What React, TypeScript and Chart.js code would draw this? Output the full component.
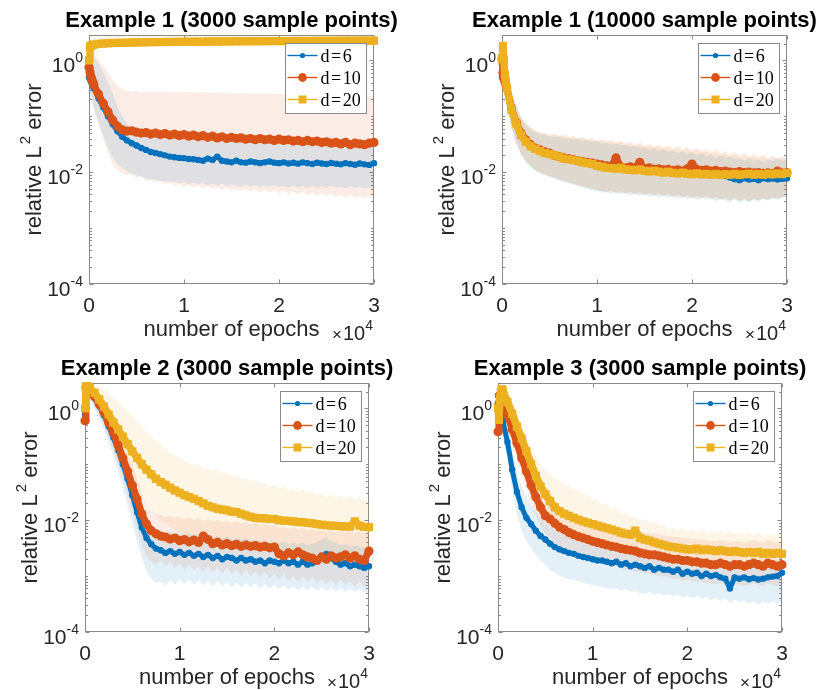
import React, { useEffect, useRef } from 'react';
import { Chart, registerables } from 'chart.js';

Chart.register(...registerables);

// ---------------- data ----------------
const EPOCHS = [
  0, 100, 200, 300, 400, 500, 1000, 1500, 2000, 2500, 3000, 3500, 4000,
  4500, 5000, 5500, 6000, 6500, 7000, 7500, 8000, 8500, 9000, 9500, 10000, 10500,
  11000, 11500, 12000, 12500, 13000, 13500, 14000, 14500, 15000, 15500, 16000, 16500, 17000,
  17500, 18000, 18500, 19000, 19500, 20000, 20500, 21000, 21500, 22000, 22500, 23000, 23500,
  24000, 24500, 25000, 25500, 26000, 26500, 27000, 27500, 28000, 28500, 29000, 29500, 30000,
];

const SERIES_LABELS = ['6', '10', '20'];
const X_TICKS = [0, 10000, 20000, 30000];
const X_TICK_LABELS = ['0', '1', '2', '3'];
const Y_TICKS = [1e-4, 1e-2, 1];
const Y_TICK_EXPONENTS = ['-4', '-2', '0'];
const Y_MIN = 1e-4;
const Y_MAX = 2.84;
const TITLES = [
  'Example 1 (3000 sample points)',
  'Example 1 (10000 sample points)',
  'Example 2 (3000 sample points)',
  'Example 3 (3000 sample points)',
];

// Panel 1: Example 1, 3000 points
const P1_D6 = [
  0.5, 0.46, 0.42, 0.38, 0.35, 0.32, 0.21, 0.145, 0.1, 0.072, 0.054, 0.043, 0.037,
  0.033, 0.03, 0.027, 0.025, 0.023, 0.022, 0.021, 0.02, 0.019, 0.0185, 0.018, 0.0178, 0.0172,
  0.017, 0.0165, 0.016, 0.0175, 0.0165, 0.019, 0.016, 0.0155, 0.015, 0.016, 0.015, 0.0148, 0.0155,
  0.015, 0.0145, 0.015, 0.0155, 0.0148, 0.0145, 0.015, 0.0143, 0.0147, 0.0142, 0.015, 0.0145, 0.014,
  0.0148, 0.0143, 0.014, 0.0146, 0.0142, 0.0138, 0.0145, 0.014, 0.0136, 0.0143, 0.0138, 0.0135, 0.0145,
];
const P1_D6_LO = [
  0.3, 0.26, 0.22, 0.19, 0.16, 0.14, 0.08, 0.045, 0.028, 0.019, 0.014, 0.012, 0.0105,
  0.0095, 0.0088, 0.0082, 0.0078, 0.0072, 0.0075, 0.0068, 0.0071, 0.0065, 0.0069, 0.0063, 0.0067, 0.0061,
  0.0065, 0.006, 0.0064, 0.0058, 0.0063, 0.0057, 0.0062, 0.0056, 0.0061, 0.0058, 0.0055, 0.006, 0.0056,
  0.0059, 0.0054, 0.0058, 0.0055, 0.0059, 0.0054, 0.0057, 0.0053, 0.0058, 0.0054, 0.0056, 0.0052, 0.0057,
  0.0053, 0.0056, 0.0052, 0.0057, 0.0053, 0.0055, 0.0051, 0.0056, 0.0052, 0.0055, 0.005, 0.0054, 0.0052,
];
const P1_D6_HI = [
  1.5, 1.4, 1.3, 1.2, 1.15, 1.1, 0.9, 0.6, 0.4, 0.25, 0.15, 0.1, 0.075,
  0.062, 0.054, 0.05, 0.046, 0.048, 0.044, 0.046, 0.042, 0.044, 0.04, 0.043, 0.039, 0.041,
  0.038, 0.04, 0.037, 0.039, 0.036, 0.038, 0.035, 0.037, 0.034, 0.036, 0.034, 0.035, 0.033,
  0.035, 0.032, 0.034, 0.033, 0.031, 0.034, 0.032, 0.03, 0.033, 0.031, 0.032, 0.03, 0.031,
  0.029, 0.032, 0.03, 0.031, 0.029, 0.03, 0.028, 0.031, 0.029, 0.03, 0.028, 0.029, 0.028,
];
const P1_D10 = [
  0.75, 0.62, 0.52, 0.46, 0.41, 0.37, 0.25, 0.17, 0.12, 0.085, 0.066, 0.057, 0.054,
  0.055, 0.052, 0.05, 0.051, 0.048, 0.05, 0.047, 0.049, 0.046, 0.048, 0.045, 0.047, 0.044,
  0.046, 0.043, 0.045, 0.042, 0.044, 0.041, 0.043, 0.04, 0.042, 0.04, 0.041, 0.039, 0.04,
  0.038, 0.04, 0.038, 0.039, 0.037, 0.039, 0.037, 0.038, 0.036, 0.037, 0.035, 0.037, 0.035,
  0.036, 0.034, 0.035, 0.033, 0.034, 0.032, 0.034, 0.031, 0.033, 0.032, 0.031, 0.033, 0.034,
];
const P1_D10_LO = [
  0.3, 0.25, 0.2, 0.18, 0.16, 0.14, 0.07, 0.04, 0.022, 0.014, 0.011, 0.0095, 0.0088,
  0.0092, 0.0078, 0.0085, 0.007, 0.0076, 0.0064, 0.0071, 0.006, 0.0066, 0.0057, 0.0062, 0.0055, 0.006,
  0.0053, 0.0058, 0.0051, 0.0056, 0.005, 0.0054, 0.0048, 0.0053, 0.0047, 0.0051, 0.0046, 0.005, 0.0045,
  0.0049, 0.0044, 0.0048, 0.0043, 0.0047, 0.0042, 0.0046, 0.0041, 0.0045, 0.004, 0.0044, 0.0039, 0.0043,
  0.0038, 0.0042, 0.0037, 0.0041, 0.0036, 0.004, 0.0035, 0.0039, 0.0035, 0.0038, 0.0034, 0.0037, 0.0036,
];
const P1_D10_HI = [
  1.8, 1.7, 1.6, 1.5, 1.4, 1.3, 1.05, 0.8, 0.6, 0.45, 0.35, 0.3, 0.28,
  0.275, 0.28, 0.27, 0.275, 0.272, 0.278, 0.27, 0.275, 0.268, 0.272, 0.27, 0.268, 0.265,
  0.27, 0.265, 0.268, 0.262, 0.266, 0.26, 0.264, 0.258, 0.262, 0.256, 0.26, 0.255, 0.258,
  0.252, 0.256, 0.25, 0.254, 0.248, 0.252, 0.246, 0.25, 0.244, 0.248, 0.242, 0.246, 0.24,
  0.244, 0.238, 0.242, 0.236, 0.24, 0.234, 0.238, 0.232, 0.236, 0.23, 0.234, 0.228, 0.23,
];
const P1_D20 = [
  1.0, 1.75, 1.82, 1.86, 1.89, 1.91, 1.97, 2.0, 2.02, 2.04, 2.05, 2.06, 2.07,
  2.08, 2.09, 2.1, 2.1, 2.11, 2.12, 2.12, 2.13, 2.13, 2.14, 2.14, 2.15, 2.15,
  2.16, 2.16, 2.16, 2.17, 2.17, 2.17, 2.18, 2.18, 2.18, 2.19, 2.19, 2.19, 2.19,
  2.2, 2.2, 2.2, 2.2, 2.21, 2.21, 2.21, 2.21, 2.22, 2.22, 2.22, 2.22, 2.22,
  2.23, 2.23, 2.23, 2.23, 2.24, 2.24, 2.24, 2.24, 2.24, 2.25, 2.25, 2.25, 2.25,
];
const P1_D20_LO = [
  0.85, 1.35, 1.45, 1.5, 1.55, 1.58, 1.65, 1.7, 1.73, 1.76, 1.78, 1.8, 1.81,
  1.82, 1.83, 1.84, 1.85, 1.86, 1.87, 1.87, 1.88, 1.88, 1.89, 1.89, 1.9, 1.9,
  1.91, 1.91, 1.91, 1.92, 1.92, 1.92, 1.93, 1.93, 1.93, 1.94, 1.94, 1.94, 1.94,
  1.95, 1.95, 1.95, 1.95, 1.96, 1.96, 1.96, 1.96, 1.97, 1.97, 1.97, 1.97, 1.97,
  1.98, 1.98, 1.98, 1.98, 1.99, 1.99, 1.99, 1.99, 1.99, 2.0, 2.0, 2.0, 2.0,
];
const P1_D20_HI = [
  1.2, 2.3, 2.4, 2.45, 2.5, 2.52, 2.58, 2.62, 2.64, 2.66, 2.68, 2.69, 2.7,
  2.71, 2.72, 2.72, 2.73, 2.73, 2.74, 2.74, 2.75, 2.75, 2.75, 2.76, 2.76, 2.76,
  2.77, 2.77, 2.77, 2.77, 2.77, 2.77, 2.77, 2.77, 2.77, 2.77, 2.77, 2.77, 2.77,
  2.78, 2.78, 2.78, 2.78, 2.78, 2.78, 2.78, 2.78, 2.78, 2.78, 2.78, 2.78, 2.78,
  2.8, 2.8, 2.8, 2.8, 2.8, 2.8, 2.8, 2.8, 2.8, 2.8, 2.8, 2.8, 2.8,
];

// Panel 2: Example 1, 10000 points
const P2_D6 = [
  0.5, 0.52, 0.45, 0.4, 0.35, 0.29, 0.13, 0.073, 0.047, 0.036, 0.03, 0.026, 0.024,
  0.022, 0.021, 0.02, 0.019, 0.018, 0.017, 0.0165, 0.016, 0.0155, 0.015, 0.014, 0.0135, 0.013,
  0.0128, 0.0125, 0.012, 0.0118, 0.0115, 0.0113, 0.011, 0.0112, 0.0108, 0.011, 0.0105, 0.0108, 0.0103,
  0.0105, 0.01, 0.0102, 0.0098, 0.01, 0.0095, 0.0098, 0.0093, 0.0095, 0.009, 0.0092, 0.0088, 0.0085,
  0.008, 0.0075, 0.0072, 0.0078, 0.0074, 0.0076, 0.0072, 0.0078, 0.0075, 0.0077, 0.0074, 0.0076, 0.0078,
];
const P2_D6_LO = [
  0.3, 0.3, 0.26, 0.22, 0.19, 0.15, 0.06, 0.032, 0.02, 0.015, 0.012, 0.0105, 0.0095,
  0.0088, 0.0082, 0.0076, 0.0072, 0.0066, 0.0063, 0.006, 0.0056, 0.0054, 0.005, 0.0048, 0.0046, 0.0043,
  0.0045, 0.0041, 0.0044, 0.004, 0.0043, 0.0038, 0.0042, 0.0037, 0.0041, 0.0036, 0.004, 0.0035, 0.0039,
  0.0034, 0.0038, 0.0033, 0.0037, 0.0032, 0.0036, 0.0031, 0.0035, 0.0032, 0.0034, 0.003, 0.0033, 0.0031,
  0.0029, 0.0032, 0.0028, 0.0031, 0.0029, 0.0032, 0.003, 0.0033, 0.0031, 0.0034, 0.0032, 0.0035, 0.0036,
];
const P2_D6_HI = [
  0.8, 0.9, 0.8, 0.7, 0.6, 0.5, 0.25, 0.14, 0.09, 0.07, 0.058, 0.052, 0.048,
  0.046, 0.044, 0.042, 0.043, 0.04, 0.041, 0.038, 0.04, 0.037, 0.038, 0.035, 0.036, 0.033,
  0.034, 0.031, 0.033, 0.03, 0.031, 0.028, 0.03, 0.027, 0.028, 0.025, 0.027, 0.024, 0.026,
  0.023, 0.025, 0.022, 0.024, 0.021, 0.023, 0.02, 0.022, 0.019, 0.021, 0.018, 0.02, 0.018,
  0.019, 0.017, 0.018, 0.016, 0.018, 0.016, 0.017, 0.015, 0.017, 0.016, 0.018, 0.016, 0.017,
];
const P2_D10 = [
  1.05, 0.6, 0.48, 0.42, 0.37, 0.32, 0.14, 0.078, 0.05, 0.038, 0.031, 0.027, 0.025,
  0.023, 0.022, 0.02, 0.019, 0.018, 0.0175, 0.0168, 0.016, 0.0155, 0.015, 0.0145, 0.014, 0.0135,
  0.013, 0.0128, 0.018, 0.0125, 0.012, 0.0125, 0.0118, 0.015, 0.0115, 0.012, 0.0112, 0.0115, 0.011,
  0.0112, 0.0108, 0.011, 0.0105, 0.0115, 0.014, 0.0112, 0.0108, 0.011, 0.0105, 0.0108, 0.0102, 0.0105,
  0.01, 0.0098, 0.0102, 0.0098, 0.01, 0.0097, 0.0098, 0.0095, 0.0097, 0.0094, 0.0105, 0.0096, 0.0098,
];
const P2_D10_LO = [
  0.6, 0.35, 0.28, 0.24, 0.2, 0.17, 0.065, 0.035, 0.022, 0.016, 0.013, 0.011, 0.01,
  0.0092, 0.0086, 0.008, 0.0075, 0.007, 0.0066, 0.0062, 0.0059, 0.0056, 0.0053, 0.005, 0.0048, 0.0046,
  0.0044, 0.0047, 0.0042, 0.0046, 0.0041, 0.0045, 0.004, 0.0044, 0.0039, 0.0043, 0.0038, 0.0042, 0.0037,
  0.0041, 0.0036, 0.004, 0.0035, 0.0039, 0.0034, 0.0038, 0.0034, 0.0037, 0.0033, 0.0036, 0.0032, 0.0035,
  0.0031, 0.0034, 0.0031, 0.0033, 0.003, 0.0033, 0.0031, 0.0034, 0.0032, 0.0035, 0.0033, 0.0036, 0.0037,
];
const P2_D10_HI = [
  1.6, 0.95, 0.85, 0.75, 0.65, 0.55, 0.28, 0.16, 0.1, 0.078, 0.064, 0.057, 0.052,
  0.05, 0.047, 0.049, 0.045, 0.047, 0.043, 0.045, 0.041, 0.043, 0.039, 0.041, 0.037, 0.039,
  0.036, 0.038, 0.034, 0.037, 0.033, 0.035, 0.031, 0.034, 0.03, 0.032, 0.029, 0.031, 0.028,
  0.03, 0.027, 0.029, 0.026, 0.028, 0.025, 0.027, 0.024, 0.026, 0.023, 0.025, 0.022, 0.024,
  0.021, 0.023, 0.02, 0.022, 0.019, 0.021, 0.019, 0.02, 0.018, 0.02, 0.018, 0.019, 0.018,
];
const P2_D20 = [
  1.1, 1.8, 1.0, 0.55, 0.42, 0.33, 0.13, 0.074, 0.046, 0.035, 0.029, 0.026, 0.024,
  0.022, 0.021, 0.02, 0.019, 0.0175, 0.017, 0.0165, 0.016, 0.015, 0.0145, 0.014, 0.013, 0.0125,
  0.012, 0.0118, 0.0115, 0.012, 0.0112, 0.011, 0.0108, 0.0112, 0.0106, 0.0103, 0.0106, 0.0102, 0.0098,
  0.0102, 0.0097, 0.0095, 0.0098, 0.0094, 0.0092, 0.0095, 0.0091, 0.0093, 0.009, 0.0093, 0.0089, 0.0092,
  0.009, 0.0093, 0.0089, 0.0092, 0.0094, 0.009, 0.0093, 0.009, 0.0094, 0.0091, 0.0095, 0.0092, 0.0097,
];
const P2_D20_LO = [
  0.8, 1.2, 0.6, 0.3, 0.22, 0.17, 0.06, 0.033, 0.021, 0.016, 0.013, 0.011, 0.0098,
  0.009, 0.0084, 0.0078, 0.0073, 0.0068, 0.0064, 0.0061, 0.0057, 0.0055, 0.0052, 0.0049, 0.0047, 0.0045,
  0.0043, 0.0046, 0.0041, 0.0045, 0.004, 0.0044, 0.0039, 0.0043, 0.0038, 0.0042, 0.0037, 0.0041, 0.0036,
  0.004, 0.0035, 0.0039, 0.0034, 0.0038, 0.0033, 0.0037, 0.0033, 0.0036, 0.0032, 0.0035, 0.0032, 0.0034,
  0.0031, 0.0034, 0.003, 0.0033, 0.003, 0.0033, 0.0031, 0.0034, 0.0032, 0.0035, 0.0033, 0.0036, 0.0037,
];
const P2_D20_HI = [
  1.5, 2.4, 1.6, 0.95, 0.75, 0.6, 0.28, 0.15, 0.095, 0.074, 0.062, 0.055, 0.05,
  0.048, 0.045, 0.047, 0.043, 0.045, 0.041, 0.043, 0.039, 0.041, 0.037, 0.039, 0.035, 0.037,
  0.034, 0.036, 0.032, 0.035, 0.031, 0.033, 0.029, 0.032, 0.028, 0.03, 0.027, 0.029, 0.026,
  0.028, 0.025, 0.027, 0.024, 0.026, 0.023, 0.025, 0.022, 0.024, 0.021, 0.023, 0.02, 0.022,
  0.019, 0.021, 0.018, 0.02, 0.018, 0.019, 0.017, 0.019, 0.017, 0.018, 0.016, 0.018, 0.017,
];

// Panel 3: Example 2, 3000 points
const P3_D6 = [
  0.78, 2.3, 2.35, 2.3, 2.2, 2.1, 1.55, 1.1, 0.75, 0.48, 0.3, 0.18, 0.1,
  0.055, 0.028, 0.014, 0.0075, 0.0048, 0.0037, 0.0031, 0.0029, 0.0026, 0.0028, 0.0025, 0.0027, 0.0024,
  0.0026, 0.0023, 0.0025, 0.0022, 0.0024, 0.0021, 0.0023, 0.002, 0.0022, 0.0021, 0.0019, 0.0021, 0.0019,
  0.002, 0.0018, 0.0019, 0.0017, 0.0019, 0.0018, 0.0017, 0.0019, 0.0017, 0.0018, 0.0016, 0.0018, 0.0016,
  0.0017, 0.0019, 0.0022, 0.0025, 0.0021, 0.0018, 0.0016, 0.0017, 0.0015, 0.0016, 0.0015, 0.0014, 0.0015,
];
const P3_D6_LO = [
  0.5, 1.6, 1.7, 1.65, 1.55, 1.45, 1.0, 0.65, 0.4, 0.24, 0.14, 0.075, 0.038,
  0.018, 0.0085, 0.0042, 0.0022, 0.0012, 0.0009, 0.00075, 0.0008, 0.00068, 0.00085, 0.0007, 0.0009, 0.00072,
  0.00088, 0.0007, 0.00085, 0.00068, 0.00082, 0.00066, 0.0008, 0.00065, 0.00078, 0.00064, 0.00076, 0.00062, 0.00075,
  0.00063, 0.00074, 0.0006, 0.00072, 0.00059, 0.0007, 0.00058, 0.00068, 0.00057, 0.00066, 0.00056, 0.00065, 0.00055,
  0.00064, 0.00055, 0.00063, 0.00054, 0.00062, 0.00053, 0.00061, 0.00052, 0.0006, 0.00052, 0.00058, 0.0005, 0.00056,
];
const P3_D6_HI = [
  1.1, 2.8, 2.8, 2.75, 2.7, 2.6, 2.1, 1.6, 1.15, 0.78, 0.52, 0.33, 0.2,
  0.115, 0.062, 0.032, 0.017, 0.011, 0.0085, 0.0072, 0.0066, 0.006, 0.0063, 0.0057, 0.006, 0.0055,
  0.0058, 0.0053, 0.0056, 0.0051, 0.0054, 0.0049, 0.0052, 0.0047, 0.005, 0.0046, 0.0048, 0.0044, 0.0047,
  0.0043, 0.0045, 0.0041, 0.0044, 0.004, 0.0042, 0.0039, 0.0041, 0.0038, 0.004, 0.0037, 0.0039, 0.0036,
  0.0038, 0.0041, 0.0045, 0.0048, 0.0043, 0.0039, 0.0036, 0.0037, 0.0034, 0.0036, 0.0033, 0.0032, 0.0033,
];
const P3_D10 = [
  0.6, 2.35, 2.4, 2.35, 2.25, 2.15, 1.65, 1.2, 0.85, 0.56, 0.36, 0.22, 0.13,
  0.075, 0.042, 0.024, 0.013, 0.0085, 0.0065, 0.0057, 0.0052, 0.005, 0.0046, 0.0048, 0.0043, 0.0045,
  0.0041, 0.0044, 0.004, 0.0052, 0.0045, 0.0038, 0.004, 0.0036, 0.0038, 0.0035, 0.0037, 0.0034, 0.0036,
  0.0034, 0.0035, 0.0033, 0.0034, 0.0032, 0.0033, 0.0025, 0.0023, 0.0026, 0.0024, 0.0027, 0.0024, 0.0022,
  0.0021, 0.0019, 0.0022, 0.002, 0.0023, 0.0021, 0.0022, 0.0024, 0.0021, 0.0023, 0.002, 0.0019, 0.0028,
];
const P3_D10_LO = [
  0.4, 1.7, 1.75, 1.7, 1.6, 1.5, 1.1, 0.75, 0.5, 0.3, 0.18, 0.1, 0.055,
  0.028, 0.014, 0.0072, 0.0036, 0.0022, 0.0018, 0.0016, 0.0019, 0.0015, 0.0018, 0.0014, 0.0017, 0.0013,
  0.0016, 0.0013, 0.0015, 0.0012, 0.0015, 0.0012, 0.0014, 0.0011, 0.0014, 0.0011, 0.0013, 0.001, 0.0013,
  0.001, 0.0012, 0.00095, 0.0012, 0.0009, 0.0011, 0.00085, 0.0011, 0.00082, 0.001, 0.0008, 0.00098, 0.00078,
  0.00095, 0.00075, 0.0009, 0.00072, 0.00088, 0.0007, 0.00085, 0.00068, 0.00082, 0.00065, 0.0008, 0.00062, 0.00075,
];
const P3_D10_HI = [
  0.9, 2.84, 2.84, 2.8, 2.75, 2.7, 2.3, 1.8, 1.35, 0.95, 0.65, 0.43, 0.27,
  0.16, 0.095, 0.055, 0.03, 0.019, 0.015, 0.013, 0.0125, 0.0115, 0.012, 0.011, 0.0115, 0.0105,
  0.011, 0.0102, 0.0108, 0.0098, 0.0105, 0.0095, 0.0102, 0.0092, 0.0098, 0.009, 0.0095, 0.0087, 0.0092,
  0.0085, 0.009, 0.0083, 0.0087, 0.008, 0.0085, 0.0072, 0.0077, 0.007, 0.0075, 0.0068, 0.0073, 0.0066,
  0.007, 0.0064, 0.0068, 0.0062, 0.0067, 0.0061, 0.0065, 0.006, 0.0064, 0.0059, 0.0063, 0.0058, 0.0062,
];
const P3_D20 = [
  1.0, 2.45, 2.5, 2.45, 2.4, 2.3, 1.9, 1.45, 1.08, 0.78, 0.56, 0.42, 0.31,
  0.23, 0.17, 0.13, 0.1, 0.08, 0.066, 0.055, 0.048, 0.043, 0.038, 0.034, 0.031, 0.028,
  0.026, 0.024, 0.022, 0.02, 0.018, 0.017, 0.016, 0.0155, 0.015, 0.0142, 0.014, 0.013, 0.0122,
  0.0115, 0.011, 0.0108, 0.0108, 0.0105, 0.0105, 0.01, 0.0098, 0.0097, 0.0095, 0.0093, 0.0092, 0.009,
  0.0088, 0.0085, 0.0083, 0.0081, 0.008, 0.0079, 0.0078, 0.0077, 0.0077, 0.0095, 0.008, 0.0076, 0.0075,
];
const P3_D20_LO = [
  0.7, 1.9, 1.95, 1.9, 1.85, 1.75, 1.35, 0.95, 0.65, 0.42, 0.27, 0.18, 0.12,
  0.08, 0.055, 0.038, 0.027, 0.02, 0.015, 0.012, 0.0098, 0.0085, 0.0075, 0.0066, 0.006, 0.0055,
  0.0052, 0.0048, 0.0046, 0.0043, 0.0041, 0.0039, 0.0037, 0.0036, 0.0035, 0.0034, 0.0033, 0.0032, 0.0031,
  0.003, 0.0029, 0.0029, 0.0028, 0.0028, 0.0027, 0.0027, 0.0026, 0.0026, 0.0025, 0.0025, 0.0024, 0.0024,
  0.0023, 0.0023, 0.0022, 0.0022, 0.0022, 0.0021, 0.0021, 0.0021, 0.002, 0.0024, 0.0021, 0.002, 0.002,
];
const P3_D20_HI = [
  1.4, 2.8, 2.84, 2.84, 2.84, 2.8, 2.7, 2.45, 2.15, 1.85, 1.55, 1.3, 1.08,
  0.88, 0.72, 0.58, 0.47, 0.38, 0.31, 0.26, 0.22, 0.19, 0.165, 0.145, 0.13, 0.115,
  0.105, 0.092, 0.1, 0.085, 0.088, 0.075, 0.08, 0.068, 0.07, 0.062, 0.064, 0.055, 0.058,
  0.05, 0.052, 0.044, 0.047, 0.04, 0.043, 0.037, 0.04, 0.034, 0.037, 0.032, 0.035, 0.03,
  0.033, 0.028, 0.031, 0.026, 0.03, 0.025, 0.028, 0.024, 0.027, 0.023, 0.026, 0.022, 0.024,
];

// Panel 4: Example 3, 3000 points
const P4_D6 = [
  1.7, 1.3, 1.1, 0.95, 0.8, 0.6, 0.25, 0.08, 0.032, 0.017, 0.011, 0.0085, 0.0065,
  0.0052, 0.0045, 0.0038, 0.0033, 0.003, 0.0028, 0.0026, 0.0025, 0.0023, 0.0022, 0.0021, 0.002, 0.0019,
  0.0019, 0.0018, 0.0017, 0.0018, 0.0016, 0.0017, 0.0015, 0.0016, 0.0015, 0.0014, 0.0015, 0.0013, 0.0014,
  0.0013, 0.0013, 0.0012, 0.0013, 0.0011, 0.0012, 0.0011, 0.00115, 0.001, 0.0011, 0.001, 0.00105, 0.00095,
  0.0009, 0.0006, 0.00095, 0.0009, 0.00095, 0.00088, 0.00092, 0.00087, 0.0009, 0.00095, 0.00098, 0.001, 0.00115,
];
const P4_D6_LO = [
  1.0, 0.8, 0.65, 0.55, 0.45, 0.33, 0.12, 0.035, 0.013, 0.0065, 0.0042, 0.0032, 0.0024,
  0.0019, 0.0016, 0.0013, 0.00115, 0.001, 0.00095, 0.00088, 0.00085, 0.0008, 0.00076, 0.00072, 0.00069, 0.00066,
  0.00064, 0.0006, 0.00058, 0.00061, 0.00055, 0.00058, 0.00052, 0.00055, 0.0005, 0.00048, 0.00052, 0.00046, 0.0005,
  0.00045, 0.00048, 0.00043, 0.00047, 0.00041, 0.00045, 0.0004, 0.00044, 0.00038, 0.00042, 0.00037, 0.00041, 0.00036,
  0.0004, 0.00033, 0.00038, 0.00034, 0.00037, 0.00032, 0.00036, 0.00031, 0.00035, 0.00032, 0.00036, 0.00031, 0.00035,
];
const P4_D6_HI = [
  2.4, 2.0, 1.7, 1.5, 1.3, 1.05, 0.5, 0.18, 0.075, 0.04, 0.026, 0.019, 0.014,
  0.011, 0.0092, 0.0078, 0.0068, 0.0061, 0.0056, 0.0052, 0.0049, 0.0046, 0.0043, 0.0041, 0.0039, 0.0037,
  0.0036, 0.0034, 0.0033, 0.0034, 0.0031, 0.0032, 0.0029, 0.003, 0.0028, 0.0027, 0.0028, 0.0025, 0.0026,
  0.0024, 0.0025, 0.0023, 0.0024, 0.0021, 0.0022, 0.002, 0.0021, 0.0019, 0.002, 0.0018, 0.0019, 0.0018,
  0.0017, 0.0016, 0.0018, 0.0017, 0.0018, 0.0016, 0.0017, 0.0016, 0.0017, 0.0018, 0.0018, 0.0019, 0.002,
];
const P4_D10 = [
  0.38, 1.2, 1.7, 1.8, 1.75, 1.65, 0.75, 0.42, 0.24, 0.13, 0.075, 0.042, 0.026,
  0.017, 0.012, 0.0105, 0.0088, 0.0075, 0.0068, 0.006, 0.0055, 0.0051, 0.0048, 0.0045, 0.0042, 0.004,
  0.0038, 0.0036, 0.0034, 0.0033, 0.0031, 0.003, 0.0029, 0.0028, 0.0026, 0.0025, 0.0024, 0.0024, 0.0023,
  0.0022, 0.0021, 0.002, 0.002, 0.0019, 0.0019, 0.0018, 0.0018, 0.0017, 0.0017, 0.0016, 0.0016, 0.0017,
  0.0016, 0.0015, 0.0016, 0.0016, 0.0015, 0.0016, 0.0017, 0.0016, 0.0015, 0.0017, 0.0016, 0.0015, 0.0016,
];
const P4_D10_LO = [
  0.25, 0.8, 1.2, 1.3, 1.25, 1.15, 0.48, 0.25, 0.13, 0.065, 0.036, 0.02, 0.012,
  0.0078, 0.0056, 0.0048, 0.004, 0.0034, 0.003, 0.0027, 0.0025, 0.0023, 0.0021, 0.002, 0.0019, 0.0018,
  0.0017, 0.0016, 0.0015, 0.0015, 0.0014, 0.0013, 0.0013, 0.0012, 0.0012, 0.0011, 0.0011, 0.00105, 0.001,
  0.00098, 0.00095, 0.0009, 0.0009, 0.00086, 0.00085, 0.00082, 0.0008, 0.00078, 0.00076, 0.00074, 0.00072, 0.00075,
  0.0007, 0.00068, 0.0007, 0.0007, 0.00066, 0.0007, 0.00074, 0.0007, 0.00066, 0.00074, 0.0007, 0.00066, 0.0007,
];
const P4_D10_HI = [
  0.6, 1.7, 2.3, 2.4, 2.35, 2.25, 1.15, 0.68, 0.42, 0.24, 0.14, 0.082, 0.052,
  0.035, 0.025, 0.021, 0.018, 0.016, 0.0145, 0.013, 0.012, 0.0112, 0.0106, 0.01, 0.0095, 0.009,
  0.0086, 0.0082, 0.0078, 0.0076, 0.0072, 0.007, 0.0068, 0.0066, 0.0062, 0.006, 0.0058, 0.0058, 0.0056,
  0.0054, 0.0052, 0.005, 0.005, 0.0048, 0.0048, 0.0046, 0.0046, 0.0044, 0.0044, 0.0042, 0.0042, 0.0044,
  0.0042, 0.004, 0.0042, 0.0042, 0.004, 0.0042, 0.0044, 0.0042, 0.004, 0.0044, 0.0042, 0.004, 0.0042,
];
const P4_D20 = [
  1.0, 0.62, 1.5, 2.0, 2.2, 2.1, 1.3, 0.8, 0.47, 0.29, 0.17, 0.1, 0.062,
  0.04, 0.029, 0.022, 0.017, 0.0145, 0.013, 0.012, 0.011, 0.0102, 0.0095, 0.009, 0.0085, 0.008,
  0.0076, 0.0072, 0.0068, 0.0064, 0.006, 0.0057, 0.0055, 0.0065, 0.0048, 0.0045, 0.0043, 0.004, 0.0038,
  0.0036, 0.0034, 0.0033, 0.0032, 0.0031, 0.003, 0.003, 0.0031, 0.0029, 0.003, 0.0029, 0.0028, 0.0029,
  0.0028, 0.0027, 0.0028, 0.0027, 0.0026, 0.0027, 0.0026, 0.0027, 0.0025, 0.0026, 0.0025, 0.0026, 0.0025,
];
const P4_D20_LO = [
  0.7, 0.45, 1.1, 1.5, 1.7, 1.6, 0.9, 0.52, 0.28, 0.16, 0.09, 0.05, 0.03,
  0.019, 0.014, 0.011, 0.0085, 0.0072, 0.0065, 0.006, 0.0055, 0.0051, 0.0048, 0.0045, 0.0042, 0.004,
  0.0038, 0.0036, 0.0034, 0.0032, 0.003, 0.0029, 0.0028, 0.003, 0.0025, 0.0024, 0.0023, 0.0022, 0.0021,
  0.002, 0.0019, 0.0018, 0.0018, 0.0017, 0.0017, 0.0017, 0.0017, 0.0016, 0.0016, 0.0016, 0.0015, 0.0016,
  0.0015, 0.0015, 0.0015, 0.0015, 0.0014, 0.0015, 0.0014, 0.0015, 0.0014, 0.0014, 0.0014, 0.0014, 0.0014,
];
const P4_D20_HI = [
  1.4, 0.9, 2.1, 2.7, 2.84, 2.84, 2.0, 1.35, 0.85, 0.55, 0.34, 0.21, 0.13,
  0.1, 0.08, 0.065, 0.055, 0.05, 0.042, 0.04, 0.035, 0.034, 0.028, 0.028, 0.023, 0.023,
  0.019, 0.019, 0.016, 0.016, 0.013, 0.0135, 0.0112, 0.0118, 0.0098, 0.0105, 0.0088, 0.0095, 0.0082,
  0.008, 0.0068, 0.0075, 0.0064, 0.0072, 0.0062, 0.007, 0.006, 0.0068, 0.0058, 0.0066, 0.0057, 0.0065,
  0.0056, 0.0064, 0.0055, 0.0063, 0.0054, 0.0062, 0.0053, 0.0061, 0.0052, 0.006, 0.0052, 0.0059, 0.0054,
];

// ---------------- styling ----------------
const COLORS = ['#0072BD', '#D95319', '#EDB120'];
const BAND_COLORS = ['rgba(0,114,189,0.11)', 'rgba(217,83,25,0.11)', 'rgba(237,177,32,0.11)'];
const POINT_STYLES = ['circle', 'circle', 'rect'];
const POINT_RADII = [3.2, 4.6, 5.8];
const LINE_WIDTHS = [5, 7, 7.5];
const AXIS_COLOR = '#8a8a8a';
const TEXT_COLOR = '#262626';
const SANS = '"Liberation Sans", Arial, Helvetica, sans-serif';
const SERIF = '"Liberation Serif", "Times New Roman", serif';

type PanelCfg = {
  left: number; top: number; w: number; h: number;
  area: { l: number; t: number; r: number; b: number };
  title: string;
  series: number[][][]; // [mean, lo, hi] per series
};

const PANELS: PanelCfg[] = [
  {
    left: 0, top: 0, w: 410, h: 345, area: { l: 89, t: 35, r: 374, b: 284 }, title: TITLES[0],
    series: [[P1_D6, P1_D6_LO, P1_D6_HI], [P1_D10, P1_D10_LO, P1_D10_HI], [P1_D20, P1_D20_LO, P1_D20_HI]],
  },
  {
    left: 410, top: 0, w: 409, h: 345, area: { l: 92, t: 35, r: 377, b: 284 }, title: TITLES[1],
    series: [[P2_D6, P2_D6_LO, P2_D6_HI], [P2_D10, P2_D10_LO, P2_D10_HI], [P2_D20, P2_D20_LO, P2_D20_HI]],
  },
  {
    left: 0, top: 345, w: 410, h: 345, area: { l: 85, t: 38, r: 369, b: 287 }, title: TITLES[2],
    series: [[P3_D6, P3_D6_LO, P3_D6_HI], [P3_D10, P3_D10_LO, P3_D10_HI], [P3_D20, P3_D20_LO, P3_D20_HI]],
  },
  {
    left: 410, top: 345, w: 409, h: 345, area: { l: 88, t: 38, r: 372, b: 287 }, title: TITLES[3],
    series: [[P4_D6, P4_D6_LO, P4_D6_HI], [P4_D10, P4_D10_LO, P4_D10_HI], [P4_D20, P4_D20_LO, P4_D20_HI]],
  },
];

function pts(arr: number[]) {
  return EPOCHS.map((e, i) => ({ x: e, y: arr[i] }));
}

function drawMarker(ctx: CanvasRenderingContext2D, idx: number, x: number, y: number) {
  ctx.fillStyle = COLORS[idx];
  if (idx === 2) {
    ctx.fillRect(x - 4, y - 4, 8, 8);
  } else {
    ctx.beginPath();
    ctx.arc(x, y, idx === 0 ? 2.6 : 4.4, 0, Math.PI * 2);
    ctx.fill();
  }
}

const matlabPlugin = {
  id: 'matlab',
  beforeDatasetsDraw(chart: any) {
    const { ctx, chartArea: a, scales } = chart;
    const x = scales.x, y = scales.y;
    ctx.save();
    ctx.strokeStyle = AXIS_COLOR;
    ctx.lineWidth = 1;
    const L = Math.round(a.left) + 0.5, R = Math.round(a.right) - 0.5;
    const T = Math.round(a.top) + 0.5, B = Math.round(a.bottom) - 0.5;
    ctx.strokeRect(L, T, R - L, B - T);
    ctx.beginPath();
    for (const v of X_TICKS) {
      const px = Math.round(x.getPixelForValue(v)) + 0.5;
      ctx.moveTo(px, B); ctx.lineTo(px, B - 4);
      ctx.moveTo(px, T); ctx.lineTo(px, T + 4);
    }
    for (const v of Y_TICKS) {
      const py = Math.round(y.getPixelForValue(v)) + 0.5;
      ctx.moveTo(L, py); ctx.lineTo(L + 4, py);
      ctx.moveTo(R, py); ctx.lineTo(R - 4, py);
    }
    for (let p = -4; p <= 0; p++) {
      for (let k = 1; k <= 9; k++) {
        if (k === 1 && p % 2 === 0) continue;
        const v = k * Math.pow(10, p);
        if (v > Y_MAX) continue;
        const py = Math.round(y.getPixelForValue(v)) + 0.5;
        ctx.moveTo(L, py); ctx.lineTo(L + 2.5, py);
        ctx.moveTo(R, py); ctx.lineTo(R - 2.5, py);
      }
    }
    ctx.stroke();
    ctx.restore();
  },
  afterDatasetsDraw(chart: any, _args: any, opts: any) {
    const { ctx, chartArea: a, scales } = chart;
    const x = scales.x, y = scales.y;
    const cx = (a.left + a.right) / 2;
    ctx.save();

    // title
    ctx.fillStyle = '#000';
    ctx.font = `bold 22px ${SANS}`;
    ctx.textAlign = 'center';
    ctx.textBaseline = 'alphabetic';
    ctx.fillText(opts.title, cx, a.top - 8);

    // x tick labels
    ctx.fillStyle = TEXT_COLOR;
    ctx.font = `21px ${SANS}`;
    X_TICKS.forEach((v, i) => {
      ctx.fillText(X_TICK_LABELS[i], x.getPixelForValue(v), a.bottom + 28);
    });

    // y tick labels 10^k
    ctx.textAlign = 'left';
    Y_TICKS.forEach((v, i) => {
      const py = y.getPixelForValue(v);
      ctx.font = `14px ${SANS}`;
      const wExp = ctx.measureText(Y_TICK_EXPONENTS[i]).width;
      ctx.font = `21px ${SANS}`;
      const wBase = ctx.measureText('10').width;
      const right = a.left - 6;
      ctx.fillText('10', right - wExp - wBase, py + 12);
      ctx.font = `14px ${SANS}`;
      ctx.fillText(Y_TICK_EXPONENTS[i], right - wExp, py + 2);
    });

    // x label
    ctx.font = `22px ${SANS}`;
    ctx.textAlign = 'center';
    ctx.fillText('number of epochs', cx, a.bottom + 52);

    // x exponent  ×10^4
    ctx.textAlign = 'left';
    ctx.font = `14px ${SANS}`;
    const w4 = ctx.measureText('4').width;
    ctx.font = `20px ${SANS}`;
    const w10 = ctx.measureText('10').width;
    ctx.font = `17px ${SANS}`;
    const wTimes = ctx.measureText('\u00d7').width;
    const xr = a.right - 1;
    ctx.fillText('\u00d7', xr - w4 - w10 - wTimes - 1, a.bottom + 56);
    ctx.font = `20px ${SANS}`;
    ctx.fillText('10', xr - w4 - w10, a.bottom + 56);
    ctx.font = `14px ${SANS}`;
    ctx.fillText('4', xr - w4, a.bottom + 46);

    // y label (rotated)
    ctx.save();
    ctx.translate(a.left - 48, (a.top + a.bottom) / 2);
    ctx.rotate(-Math.PI / 2);
    ctx.font = `22px ${SANS}`;
    const p1 = 'relative L';
    const p2 = ' error';
    const w1 = ctx.measureText(p1).width;
    const w2 = ctx.measureText(p2).width;
    ctx.font = `15px ${SANS}`;
    const ws = ctx.measureText('2').width;
    const total = w1 + ws + 2 + w2;
    let sx = -total / 2;
    ctx.textAlign = 'left';
    ctx.font = `22px ${SANS}`;
    ctx.fillText(p1, sx, 0);
    sx += w1 + 2;
    ctx.font = `15px ${SANS}`;
    ctx.fillText('2', sx, -11);
    sx += ws;
    ctx.font = `22px ${SANS}`;
    ctx.fillText(p2, sx, 0);
    ctx.restore();

    // legend
    const bw = 81, bh = 70;
    const bx = Math.round(a.right - 8 - bw) + 0.5;
    const by = Math.round(a.top + 8) + 0.5;
    ctx.fillStyle = '#fff';
    ctx.fillRect(bx, by, bw, bh);
    ctx.strokeStyle = AXIS_COLOR;
    ctx.lineWidth = 1;
    ctx.strokeRect(bx, by, bw, bh);
    SERIES_LABELS.forEach((lab, i) => {
      const ry = by + 12 + i * 22;
      ctx.strokeStyle = COLORS[i];
      ctx.lineWidth = 1.4;
      ctx.beginPath();
      ctx.moveTo(bx + 2, ry);
      ctx.lineTo(bx + 32, ry);
      ctx.stroke();
      drawMarker(ctx, i, bx + 17, ry);
      ctx.fillStyle = '#000';
      ctx.font = `18px ${SERIF}`;
      let tx = bx + 35;
      const base = ry + 6;
      ctx.fillText('d', tx, base);
      tx += ctx.measureText('d').width + 1.5;
      ctx.fillText('=', tx, base);
      tx += ctx.measureText('=').width + 1.5;
      ctx.fillText(lab, tx, base);
    });

    ctx.restore();
  },
};

function Panel({ cfg }: { cfg: PanelCfg }) {
  const ref = useRef<HTMLCanvasElement>(null);
  useEffect(() => {
    const canvas = ref.current;
    if (!canvas) return;
    const datasets: any[] = [];
    cfg.series.forEach((s, i) => {
      datasets.push({
        label: `lo${i}`, data: pts(s[1]), borderWidth: 0, pointRadius: 0,
        borderColor: 'rgba(0,0,0,0)', fill: false, order: 10, clip: false,
      });
      datasets.push({
        label: `hi${i}`, data: pts(s[2]), borderWidth: 0, pointRadius: 0,
        borderColor: 'rgba(0,0,0,0)', backgroundColor: BAND_COLORS[i], fill: '-1', order: 10, clip: false,
      });
    });
    cfg.series.forEach((s, i) => {
      datasets.push({
        label: `d=${SERIES_LABELS[i]}`, data: pts(s[0]),
        borderColor: COLORS[i], borderWidth: LINE_WIDTHS[i],
        borderJoinStyle: 'round', borderCapStyle: 'round',
        pointStyle: POINT_STYLES[i], pointRadius: POINT_RADII[i],
        pointBackgroundColor: COLORS[i], pointBorderColor: COLORS[i], pointBorderWidth: 0,
        fill: false, order: 3 - i, clip: false, tension: 0,
      });
    });
    const chart = new Chart(canvas, {
      type: 'line',
      data: { datasets },
      options: {
        animation: false,
        responsive: false,
        events: [],
        layout: {
          padding: {
            left: cfg.area.l, top: cfg.area.t,
            right: cfg.w - cfg.area.r, bottom: cfg.h - cfg.area.b,
          },
        },
        scales: {
          x: { type: 'linear', display: false, min: 0, max: 30000 },
          y: { type: 'logarithmic', display: false, min: Y_MIN, max: Y_MAX },
        },
        plugins: {
          legend: { display: false },
          tooltip: { enabled: false },
          title: { display: false },
          matlab: { title: cfg.title },
        } as any,
      },
      plugins: [matlabPlugin],
    });
    return () => chart.destroy();
  }, []);
  return (
    <canvas
      ref={ref}
      width={cfg.w}
      height={cfg.h}
      style={{ position: 'absolute', left: cfg.left, top: cfg.top, width: cfg.w, height: cfg.h }}
    />
  );
}

export default function App() {
  return (
    <div style={{ position: 'absolute', left: 0, top: 0, width: 819, height: 690, background: '#fff', overflow: 'hidden' }}>
      {PANELS.map((p, i) => (
        <Panel key={i} cfg={p} />
      ))}
    </div>
  );
}
